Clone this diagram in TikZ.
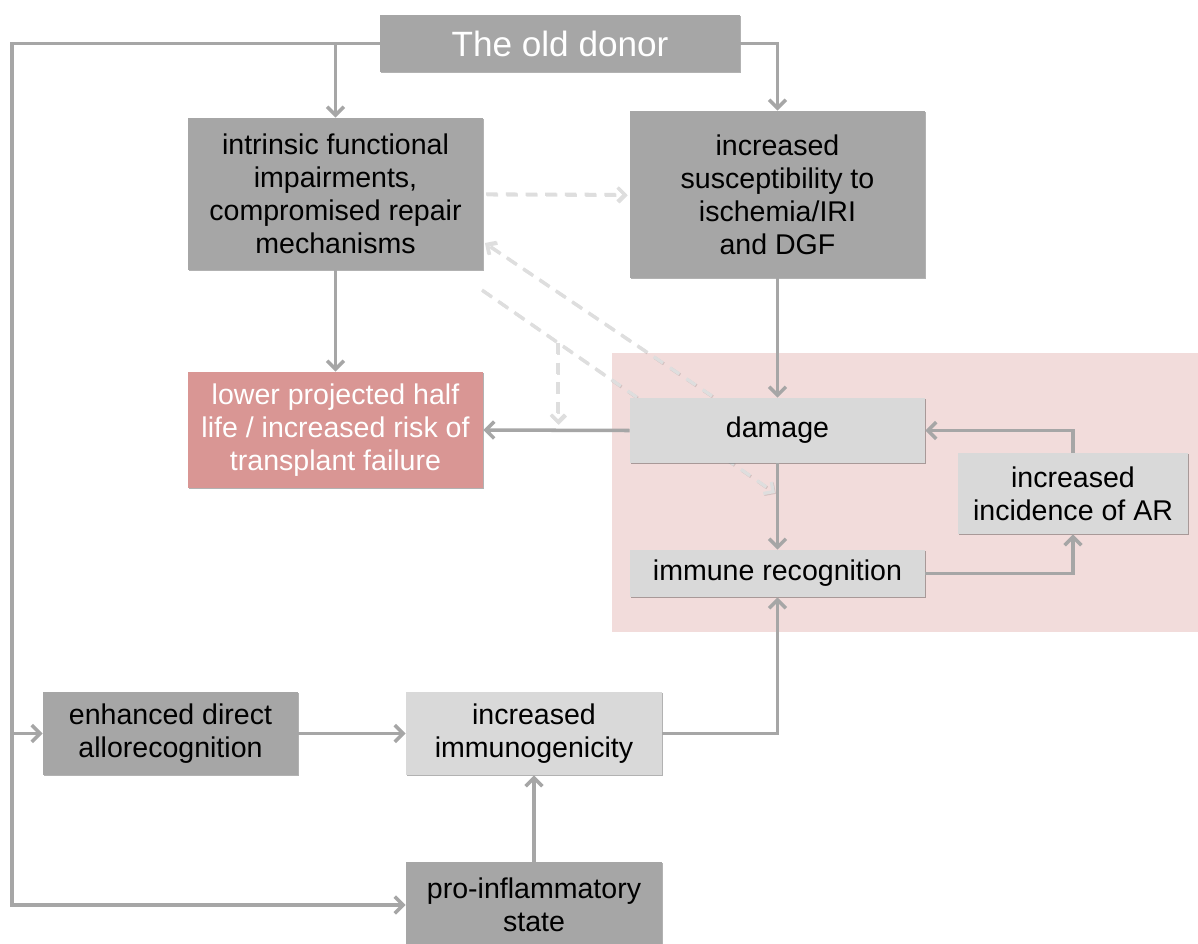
\documentclass[tikz,border=0pt]{standalone}
\usepackage{fontspec}
\setmainfont{Liberation Sans}
\usetikzlibrary{arrows.meta,backgrounds,shadows}
\definecolor{dk}{HTML}{A6A6A6}
\definecolor{lt}{HTML}{D9D9D9}
\definecolor{pk}{HTML}{D99694}
\definecolor{reg}{HTML}{F2DCDB}
\definecolor{dash}{HTML}{DEDEDE}
\begin{document}
\begin{tikzpicture}[x=0.025cm,y=-0.025cm,
  box/.style={draw=none, align=center, inner sep=0pt,
    font=\fontsize{20.3}{23.5}\selectfont,
    drop shadow={shadow xshift=0.8pt,shadow yshift=-0.8pt,opacity=0.3,fill=black}},
  dbox/.style={box, fill=dk, text=black},
  lbox/.style={box, fill=lt, text=black},
  pbox/.style={box, fill=pk, text=white},
  arr/.style={draw=dk, line width=2.5pt, -{Straight Barb[length=6pt,width=12pt]}},
  darr/.style={draw=dash, line width=2.3pt, dash pattern=on 8pt off 6pt,
    -{Straight Barb[length=5pt,width=10pt]}},
  dshadow/.style={darr, draw=black, opacity=0.12, transform canvas={xshift=0.6pt,yshift=-0.6pt}}]
\clip (0,0) rectangle (1198,943);

% nodes
\node[dbox, text=white, minimum width=9cm, minimum height=1.425cm,
  font=\fontsize{25}{30}\selectfont] (donor) at (560,43.5) {The old donor};
\node[dbox, minimum width=7.375cm, minimum height=3.8cm] (intr) at (335.5,194)
  {intrinsic functional\\impairments,\\compromised repair\\mechanisms};
\node[dbox, minimum width=7.375cm, minimum height=4.175cm] (susc) at (777.5,194.5)
  {increased\\susceptibility to\\ischemia/IRI\\and DGF};
\node[pbox, minimum width=7.375cm, minimum height=2.9cm] (lower) at (335.5,430)
  {lower projected half\\life / increased risk of\\transplant failure};
\node[lbox, minimum width=7.375cm, minimum height=1.625cm] (dam) at (777.5,430.5) {damage};
\node[lbox, minimum width=5.75cm, minimum height=2.025cm] (ar) at (1073,493.5)
  {increased\\incidence of AR};
\node[lbox, minimum width=7.375cm, minimum height=1.175cm] (imm) at (777.5,573.5) {immune recognition};
\node[dbox, minimum width=6.375cm, minimum height=2.075cm] (enh) at (170.5,733.5)
  {enhanced direct\\allorecognition};
\node[lbox, minimum width=6.4cm, minimum height=2.075cm] (immuno) at (534,733.5)
  {increased\\immunogenicity};
\node[dbox, minimum width=6.4cm, minimum height=2.15cm] (pro) at (534,905)
  {pro-inflammatory\\state};

% background region and dashed connectors
\begin{scope}[on background layer]
  \fill[white] (0,0) rectangle (1198,943);
  \fill[reg] (612,353) rectangle (1198,632);
  \coordinate (a1) at (712,396);
  \coordinate (a2) at (485,243);
  \coordinate (b1) at (482,290);
  \coordinate (b2) at (775,493);
  \coordinate (c1) at (558,343);
  \coordinate (c2) at (558,424);
  \draw[dshadow, shorten <=2pt, shorten >=2pt] (intr.east) -- (susc.west);
  \draw[dshadow] (a1) -- (a2);
  \draw[dshadow] (b1) -- (b2);
  \draw[dshadow] (c1) -- (c2);
  \draw[darr, shorten <=2pt, shorten >=2pt] (intr.east) -- (susc.west);
  \draw[darr] (a1) -- (a2);
  \draw[darr] (b1) -- (b2);
  \draw[darr] (c1) -- (c2);
\end{scope}

% solid connectors
\coordinate (L) at (12,45);
\draw[arr] (donor.west) -| (L |- pro.west) -- (pro.west);
\draw[arr] (L |- enh.west) -- (enh.west);
\draw[arr] (intr.north |- donor.west) -- (intr.north);
\draw[arr] (donor.east) -| (susc.north);
\draw[arr] (intr) -- (lower);
\draw[arr] (susc) -- (dam);
\draw[arr] (dam.west) -- (lower.east);
\draw[arr] (dam) -- (imm);
\draw[arr] (imm.east) -| (ar.south);
\draw[arr] (ar.north) |- (dam.east);
\draw[arr] (enh) -- (immuno);
\draw[arr] (immuno.east) -| (imm.south);
\draw[arr] (pro) -- (immuno);
\end{tikzpicture}
\end{document}
